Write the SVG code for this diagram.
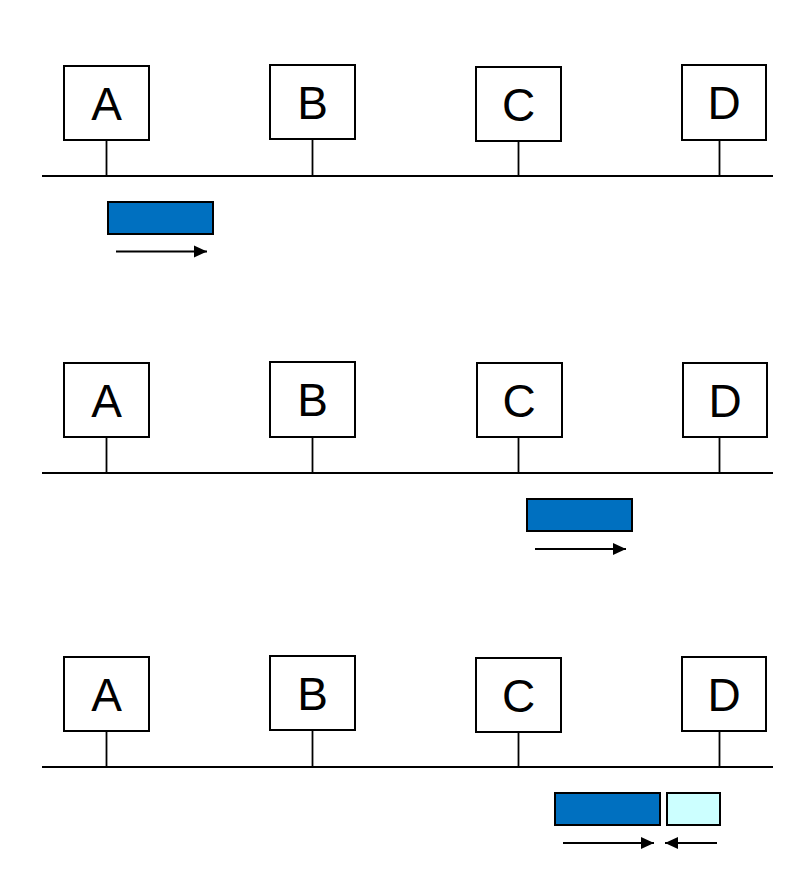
<svg xmlns="http://www.w3.org/2000/svg" width="805" height="875" viewBox="0 0 805 875">
<defs>
<style>
.node rect{fill:#fff;stroke:#000;stroke-width:2}
.node text{font-family:"Liberation Sans",Arial,sans-serif;font-size:46px;fill:#000;text-anchor:middle}
.bus{stroke:#000;stroke-width:2;fill:none}
.stem{stroke:#000;stroke-width:1.8;fill:none}
.frame{fill:#0070C0;stroke:#000;stroke-width:2}
.jam{fill:#CCFFFF;stroke:#000;stroke-width:2}
.arr{stroke:#000;stroke-width:2;fill:none;marker-end:url(#ah)}
</style>
<marker id="ah" markerUnits="userSpaceOnUse" markerWidth="14" markerHeight="14" viewBox="0 0 14 14" refX="13" refY="7" orient="auto">
<path d="M0,1 L13,7 L0,13 Z" fill="#000"/>
</marker>
</defs>
<g id="connectors">
<line class="bus" x1="42" y1="176" x2="773" y2="176"/>
<line class="stem" x1="106.5" y1="140" x2="106.5" y2="176"/>
<line class="stem" x1="312.5" y1="139" x2="312.5" y2="176"/>
<line class="stem" x1="518.5" y1="141" x2="518.5" y2="176"/>
<line class="stem" x1="719.5" y1="140" x2="719.5" y2="176"/>
<line class="bus" x1="42" y1="473" x2="773" y2="473"/>
<line class="stem" x1="106.5" y1="437" x2="106.5" y2="473"/>
<line class="stem" x1="312.5" y1="437" x2="312.5" y2="473"/>
<line class="stem" x1="518.5" y1="437" x2="518.5" y2="473"/>
<line class="stem" x1="719.5" y1="437" x2="719.5" y2="473"/>
<line class="bus" x1="42" y1="767" x2="773" y2="767"/>
<line class="stem" x1="106.5" y1="731" x2="106.5" y2="767"/>
<line class="stem" x1="312.5" y1="730" x2="312.5" y2="767"/>
<line class="stem" x1="518.5" y1="732" x2="518.5" y2="767"/>
<line class="stem" x1="719.5" y1="731" x2="719.5" y2="767"/>
<line class="arr" x1="116" y1="251.5" x2="207" y2="251.5"/>
<line class="arr" x1="535" y1="549" x2="626" y2="549"/>
<line class="arr" x1="563" y1="843" x2="654" y2="843"/>
<line class="arr" x1="717" y1="843" x2="665" y2="843"/>
</g>
<g id="p1-A" class="node"><rect x="64" y="66" width="85" height="74"/><text x="106.5" y="120">A</text></g>
<g id="p1-B" class="node"><rect x="270" y="65" width="85" height="74"/><text x="312.5" y="119">B</text></g>
<g id="p1-C" class="node"><rect x="476" y="67" width="85" height="74"/><text x="518.5" y="121">C</text></g>
<g id="p1-D" class="node"><rect x="682" y="65" width="84" height="75"/><text x="724" y="119">D</text></g>
<g id="p2-A" class="node"><rect x="64" y="363" width="85" height="74"/><text x="106.5" y="417">A</text></g>
<g id="p2-B" class="node"><rect x="270" y="362" width="85" height="75"/><text x="312.5" y="416">B</text></g>
<g id="p2-C" class="node"><rect x="477" y="363" width="85" height="74"/><text x="519" y="417">C</text></g>
<g id="p2-D" class="node"><rect x="683" y="363" width="84" height="74"/><text x="725" y="417">D</text></g>
<g id="p3-A" class="node"><rect x="64" y="657" width="85" height="74"/><text x="106.5" y="711">A</text></g>
<g id="p3-B" class="node"><rect x="270" y="656" width="85" height="74"/><text x="312.5" y="710">B</text></g>
<g id="p3-C" class="node"><rect x="476" y="658" width="85" height="74"/><text x="518.5" y="712">C</text></g>
<g id="p3-D" class="node"><rect x="682" y="657" width="84" height="74"/><text x="724" y="711">D</text></g>
<g id="frame1"><rect class="frame" x="108" y="202" width="105" height="32"/></g>
<g id="frame2"><rect class="frame" x="527" y="499" width="105" height="32"/></g>
<g id="frame3"><rect class="frame" x="555" y="793" width="105" height="32"/></g>
<g id="jam3"><rect class="jam" x="667" y="793" width="53" height="32"/></g>
</svg>
